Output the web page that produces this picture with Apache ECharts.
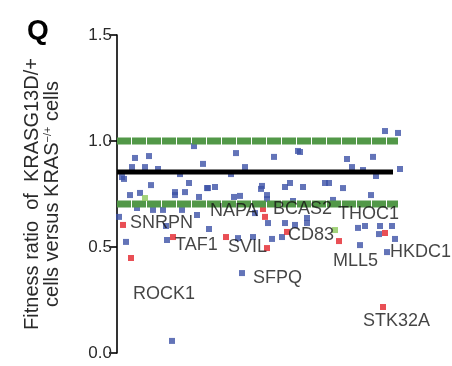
<!DOCTYPE html>
<html><head><meta charset="utf-8">
<script src="https://cdn.jsdelivr.net/npm/echarts@6/dist/echarts.min.js"></script>
<style>html,body{margin:0;padding:0;background:#fff}#c{width:452px;height:366px}</style>
</head><body><div id="c"></div>
<script>
// gene rank (x, arbitrary order) and fitness ratio (y)
const bluePoints = [[77,0.976],[18,0.920],[32,0.929],[15,0.877],[28,0.877],[41,0.868],[86,0.892],[63,0.844],[5,0.830],[7,0.821],[34,0.792],[72,0.802],[13,0.745],[23,0.755],[58,0.759],[58,0.745],[68,0.759],[82,0.736],[90,0.778],[119,0.943],[157,0.925],[181,0.953],[128,0.877],[114,0.844],[91,0.778],[98,0.783],[145,0.788],[144,0.774],[168,0.783],[173,0.802],[186,0.783],[117,0.736],[150,0.745],[150,0.726],[176,0.717],[268,1.047],[281,1.038],[183,0.948],[230,0.915],[256,0.925],[235,0.877],[246,0.863],[259,0.835],[283,0.868],[208,0.802],[212,0.802],[226,0.778],[254,0.745],[216,0.722],[2,0.642],[9,0.524],[50,0.533],[80,0.651],[92,0.585],[136,0.547],[155,0.538],[165,0.547],[125,0.377],[55,0.057],[243,0.509],[262,0.561],[278,0.538],[270,0.476],[151,0.613],[168,0.613],[178,0.604],[241,0.590],[248,0.599],[263,0.599],[275,0.599],[190,0.637],[190,0.613],[20,0.684],[36,0.675],[46,0.675],[65,0.675],[121,0.542],[138,0.660],[123,0.741],[49,0.599]];
const redPoints = [[6,0.604],[14,0.448],[56,0.547],[109,0.547],[146,0.679],[148,0.642],[150,0.495],[170,0.571],[222,0.528],[268,0.566],[266,0.217]];
const greenPoints = [[28,0.731],[218,0.580]];
const geneNames = ['SNRPN','TAF1','SVIL','NAPA','BCAS2','THOC1','CD83','MLL5','HKDC1','SFPQ','ROCK1','STK32A'];
const labelX = [13,58,111,93,156,221,171,216,273,136,16,246];
const labelY = [0.613,0.509,0.500,0.670,0.679,0.656,0.557,0.434,0.476,0.354,0.278,0.151];
const upperThreshold = 1.0;
const lowerThreshold = 0.703;
const meanRatio = 0.854;
const yTicks = [0, 0.5, 1.0, 1.5];

const chart = echarts.init(document.getElementById('c'), null, {renderer:'canvas'});
const FONT = 'Liberation Sans, Arial, Helvetica, sans-serif';
const greenLine = y => [[0,y],[281,y]];
chart.setOption({
  animation:false,
  grid:{left:117,right:50,top:35,bottom:13},
  title:{text:'Q',left:22,top:12,textStyle:{fontFamily:FONT,fontWeight:'bold',fontSize:28,color:'#000'}},
  xAxis:{type:'value',min:0,max:285,show:false},
  yAxis:{type:'value',min:yTicks[0],max:yTicks[yTicks.length-1],interval:0.5,
    axisLine:{show:true,lineStyle:{color:'#000',width:1.6}},
    axisTick:{show:true,length:8,lineStyle:{color:'#000',width:1.6}},
    splitLine:{show:false},
    axisLabel:{fontFamily:FONT,fontSize:17,color:'#2a2a2a',margin:5,formatter:v=>v.toFixed(1)},
    name:'{a|Fitness ratio  of  KRASG13D/+}\n{a|cells versus KRAS}{s|−/+}{a| cells}',
    nameLocation:'middle',nameRotate:90,nameGap:55,
    nameTextStyle:{fontFamily:FONT,color:'#2a2a2a',align:'center',lineHeight:20,
      rich:{a:{fontFamily:FONT,fontSize:20,color:'#2a2a2a',lineHeight:20},
            s:{fontFamily:FONT,fontSize:11,color:'#2a2a2a',verticalAlign:'top',lineHeight:20}}}
  },
  series:[
    {type:'scatter',data:bluePoints,symbol:'rect',symbolSize:6,itemStyle:{color:'#3c51a6'},z:2},
    {type:'scatter',data:redPoints,symbol:'rect',symbolSize:6,itemStyle:{color:'#e3232b'},z:2},
    {type:'line',data:greenLine(upperThreshold),symbol:'none',lineStyle:{color:'#529848',width:7,type:[14,1],cap:'butt'},z:3},
    {type:'line',data:greenLine(lowerThreshold),symbol:'none',lineStyle:{color:'#529848',width:7,type:[14,1],cap:'butt'},z:3},
    {type:'line',data:[[0,meanRatio],[276,meanRatio]],symbol:'none',lineStyle:{color:'#000',width:5},z:4},
    {type:'scatter',data:greenPoints,symbol:'rect',symbolSize:6,itemStyle:{color:'#8cc85a'},z:5},
    {type:'scatter',symbolSize:0,z:6,
      data:geneNames.map((n,i)=>({value:[labelX[i],labelY[i]],name:n})),
      label:{show:true,position:'right',distance:0,formatter:p=>p.name,
        fontFamily:FONT,fontSize:18,color:'#151515'}}
  ]
});
</script></body></html>
